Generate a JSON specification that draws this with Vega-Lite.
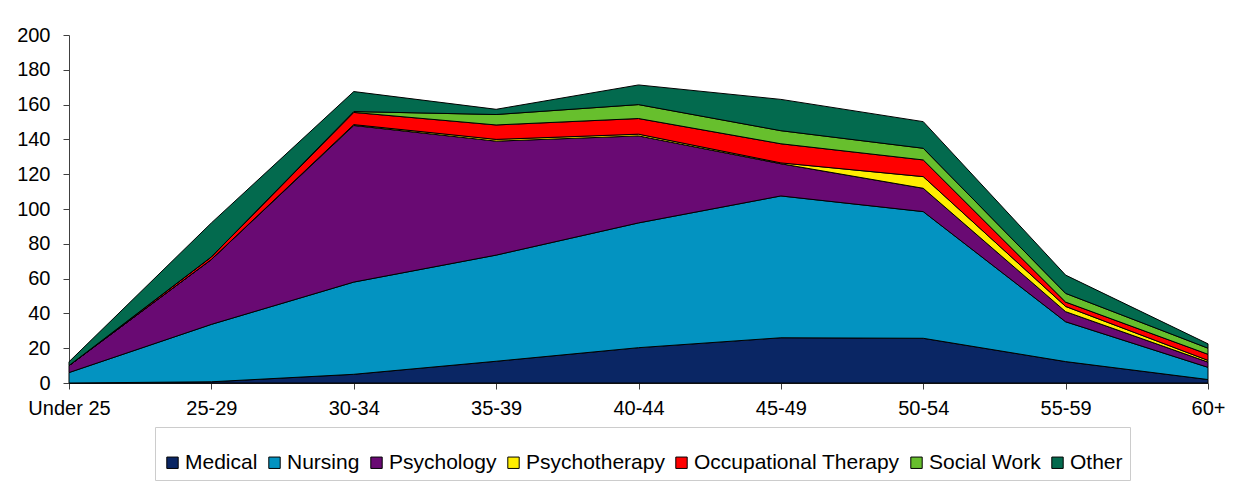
{
  "$schema": "https://vega.github.io/schema/vega-lite/v6.json",
  "width": 1139,
  "height": 348,
  "autosize": "none",
  "padding": {"left": 69, "top": 35, "right": 47, "bottom": 117},
  "background": "white",
  "data": {
    "values": [
      {"age": "Under 25", "type": "Medical", "value": 0},
      {"age": "Under 25", "type": "Nursing", "value": 6},
      {"age": "Under 25", "type": "Psychology", "value": 4},
      {"age": "Under 25", "type": "Psychotherapy", "value": 0},
      {"age": "Under 25", "type": "Occupational Therapy", "value": 0},
      {"age": "Under 25", "type": "Social Work", "value": 0},
      {"age": "Under 25", "type": "Other", "value": 2.2},
      {"age": "25-29", "type": "Medical", "value": 0.7},
      {"age": "25-29", "type": "Nursing", "value": 33},
      {"age": "25-29", "type": "Psychology", "value": 37.3},
      {"age": "25-29", "type": "Psychotherapy", "value": 0},
      {"age": "25-29", "type": "Occupational Therapy", "value": 1.5},
      {"age": "25-29", "type": "Social Work", "value": 0},
      {"age": "25-29", "type": "Other", "value": 19.5},
      {"age": "30-34", "type": "Medical", "value": 5},
      {"age": "30-34", "type": "Nursing", "value": 53},
      {"age": "30-34", "type": "Psychology", "value": 90},
      {"age": "30-34", "type": "Psychotherapy", "value": 0.5},
      {"age": "30-34", "type": "Occupational Therapy", "value": 7},
      {"age": "30-34", "type": "Social Work", "value": 0.5},
      {"age": "30-34", "type": "Other", "value": 11.5},
      {"age": "35-39", "type": "Medical", "value": 12.5},
      {"age": "35-39", "type": "Nursing", "value": 61},
      {"age": "35-39", "type": "Psychology", "value": 65.5},
      {"age": "35-39", "type": "Psychotherapy", "value": 1},
      {"age": "35-39", "type": "Occupational Therapy", "value": 8.3},
      {"age": "35-39", "type": "Social Work", "value": 6},
      {"age": "35-39", "type": "Other", "value": 3},
      {"age": "40-44", "type": "Medical", "value": 20.3},
      {"age": "40-44", "type": "Nursing", "value": 71.7},
      {"age": "40-44", "type": "Psychology", "value": 50},
      {"age": "40-44", "type": "Psychotherapy", "value": 1},
      {"age": "40-44", "type": "Occupational Therapy", "value": 9},
      {"age": "40-44", "type": "Social Work", "value": 8},
      {"age": "40-44", "type": "Other", "value": 11.3},
      {"age": "45-49", "type": "Medical", "value": 26},
      {"age": "45-49", "type": "Nursing", "value": 81.5},
      {"age": "45-49", "type": "Psychology", "value": 18.5},
      {"age": "45-49", "type": "Psychotherapy", "value": 0.5},
      {"age": "45-49", "type": "Occupational Therapy", "value": 11},
      {"age": "45-49", "type": "Social Work", "value": 7.5},
      {"age": "45-49", "type": "Other", "value": 18},
      {"age": "50-54", "type": "Medical", "value": 25.7},
      {"age": "50-54", "type": "Nursing", "value": 72.8},
      {"age": "50-54", "type": "Psychology", "value": 13.4},
      {"age": "50-54", "type": "Psychotherapy", "value": 6.7},
      {"age": "50-54", "type": "Occupational Therapy", "value": 9.6},
      {"age": "50-54", "type": "Social Work", "value": 6.7},
      {"age": "50-54", "type": "Other", "value": 15.3},
      {"age": "55-59", "type": "Medical", "value": 12.3},
      {"age": "55-59", "type": "Nursing", "value": 22.9},
      {"age": "55-59", "type": "Psychology", "value": 5.8},
      {"age": "55-59", "type": "Psychotherapy", "value": 3},
      {"age": "55-59", "type": "Occupational Therapy", "value": 2.5},
      {"age": "55-59", "type": "Social Work", "value": 5},
      {"age": "55-59", "type": "Other", "value": 10.5},
      {"age": "60+", "type": "Medical", "value": 2},
      {"age": "60+", "type": "Nursing", "value": 7},
      {"age": "60+", "type": "Psychology", "value": 3},
      {"age": "60+", "type": "Psychotherapy", "value": 1},
      {"age": "60+", "type": "Occupational Therapy", "value": 3.5},
      {"age": "60+", "type": "Social Work", "value": 3.5},
      {"age": "60+", "type": "Other", "value": 2.5}
    ]
  },
  "transform": [
    {"calculate": "indexof(['Medical','Nursing','Psychology','Psychotherapy','Occupational Therapy','Social Work','Other'], datum.type)", "as": "rank"}
  ],
  "mark": {"type": "area", "stroke": "black", "strokeWidth": 1, "opacity": 1, "fillOpacity": 1},
  "encoding": {
    "x": {
      "field": "age",
      "type": "nominal",
      "sort": null,
      "scale": {"type": "point", "padding": 0},
      "axis": {
        "title": null,
        "labelAngle": 0,
        "labelFont": "Liberation Sans",
        "labelFontSize": 20,
        "labelColor": "black",
        "labelPadding": 9,
        "tickSize": 6,
        "tickColor": "#404040",
        "domainColor": "#202020",
        "grid": false
      }
    },
    "y": {
      "field": "value",
      "type": "quantitative",
      "stack": "zero",
      "scale": {"domain": [0, 200], "nice": false},
      "axis": {
        "title": null,
        "values": [0, 20, 40, 60, 80, 100, 120, 140, 160, 180, 200],
        "labelFont": "Liberation Sans",
        "labelFontSize": 20,
        "labelColor": "black",
        "labelPadding": 13,
        "tickSize": 6,
        "tickColor": "#404040",
        "domainColor": "#404040",
        "grid": false
      }
    },
    "color": {
      "field": "type",
      "type": "nominal",
      "sort": ["Medical", "Nursing", "Psychology", "Psychotherapy", "Occupational Therapy", "Social Work", "Other"],
      "scale": {
        "domain": ["Medical", "Nursing", "Psychology", "Psychotherapy", "Occupational Therapy", "Social Work", "Other"],
        "range": ["#0a2664", "#0393c1", "#690a73", "#ffee00", "#ff0000", "#67bf2d", "#036a4e"]
      },
      "legend": {
        "orient": "none",
        "direction": "horizontal",
        "legendX": 86,
        "legendY": 392,
        "title": " ",
        "titleFontSize": 14,
        "titlePadding": 4,
        "padding": 7,
        "strokeColor": "#cccccc",
        "fillColor": "white",
        "symbolType": "square",
        "symbolSize": 130,
        "symbolStrokeColor": "black",
        "symbolStrokeWidth": 1,
        "symbolOpacity": 1,
        "labelFont": "Liberation Sans",
        "labelFontSize": 21,
        "labelColor": "black",
        "labelOffset": 2,
        "columnPadding": 6,
        "labelLimit": 400
      }
    },
    "order": {"field": "rank", "type": "quantitative", "sort": "ascending"}
  },
  "config": {"view": {"stroke": null}}
}
